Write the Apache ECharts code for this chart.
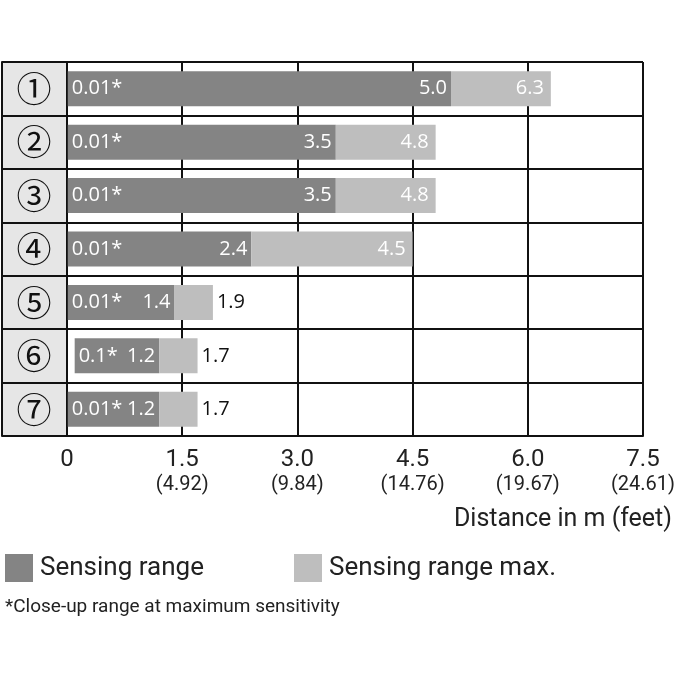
<!DOCTYPE html>
<html>
<head>
<meta charset="utf-8">
<script src="https://cdn.jsdelivr.net/npm/echarts@6/dist/echarts.min.js"></script>
<style>html,body{margin:0;padding:0;background:#fff;}#c{width:680px;height:680px;}</style>
</head>
<body>
<div id="c"></div>
<script>
const categories = ['①','②','③','④','⑤','⑥','⑦'];
const closeUp = [0.01, 0.01, 0.01, 0.01, 0.01, 0.1, 0.01];
const closeUpLabels = ['0.01*', '0.01*', '0.01*', '0.01*', '0.01*', '0.1*', '0.01*'];
const sensingRange = [5.0, 3.5, 3.5, 2.4, 1.4, 1.2, 1.2];
const sensingRangeMax = [6.3, 4.8, 4.8, 4.5, 1.9, 1.7, 1.7];
const xTickMeters = ['0', '1.5', '3.0', '4.5', '6.0', '7.5'];
const xTickFeet = ['', '(4.92)', '(9.84)', '(14.76)', '(19.67)', '(24.61)'];
const seriesNames = ['Sensing range', 'Sensing range max.'];
const axisTitle = 'Distance in m (feet)';
const footnote = '*Close-up range at maximum sensitivity';

const DARK = '#848484';
const LIGHT = '#bebebe';
const LINE = '#111';
const LABEL_FONT = 'Open Sans';
const TEXT_FONT = 'Roboto';

const chart = echarts.init(document.getElementById('c'), null, {renderer: 'canvas'});

const darkLen = sensingRange.map((v, i) => +(v - closeUp[i]).toFixed(3));
const lightLen = sensingRangeMax.map((v, i) => +(v - sensingRange[i]).toFixed(3));

const option = {
  animation: false,
  backgroundColor: '#fff',
  title: [
    {text: axisTitle, right: 3, top: 502, textStyle: {fontFamily: TEXT_FONT, fontSize: 25, fontWeight: 'normal', color: '#222'}},
    {text: footnote, left: 0, top: 593, textStyle: {fontFamily: TEXT_FONT, fontSize: 19, fontWeight: 'normal', color: '#222'}}
  ],
  legend: [
    {data: [seriesNames[0]], left: 0, top: 549, itemWidth: 28, itemHeight: 28, itemGap: 0,
     icon: 'rect', textStyle: {fontFamily: TEXT_FONT, fontSize: 26, color: '#222', padding: [0, 0, 0, 2]}},
    {data: [seriesNames[1]], left: 289, top: 549, itemWidth: 28, itemHeight: 28, itemGap: 0,
     icon: 'rect', textStyle: {fontFamily: TEXT_FONT, fontSize: 26, color: '#222', padding: [0, 0, 0, 2]}}
  ],
  grid: [
    {left: 67, right: 37, top: 62, bottom: 244, containLabel: false},
    {left: 2, width: 65, top: 62, bottom: 244, containLabel: false}
  ],
  xAxis: [
    {
      type: 'value', gridIndex: 0, min: 0, max: 7.5, interval: 1.5,
      axisLine: {show: true, lineStyle: {color: LINE, width: 2}},
      axisTick: {show: false},
      splitLine: {show: true, lineStyle: {color: LINE, width: 2}},
      axisLabel: {
        margin: 11,
        formatter: function (v) {
          const i = Math.round(v / 1.5);
          const f = xTickFeet[i];
          return f ? '{m|' + xTickMeters[i] + '}\n{f|' + f + '}' : '{m|' + xTickMeters[i] + '}';
        },
        rich: {
          m: {fontFamily: TEXT_FONT, fontSize: 24, color: '#222', lineHeight: 26},
          f: {fontFamily: TEXT_FONT, fontSize: 20, color: '#222', lineHeight: 24}
        }
      }
    },
    {type: 'value', gridIndex: 1, min: 0, max: 1, show: false}
  ],
  yAxis: [
    {
      type: 'category', gridIndex: 0, data: categories, inverse: true,
      axisLine: {show: true, lineStyle: {color: LINE, width: 2}},
      axisTick: {show: false},
      axisLabel: {show: false},
      splitLine: {show: true, lineStyle: {color: LINE, width: 2}}
    },
    {
      type: 'category', gridIndex: 1, data: categories, inverse: true,
      axisLine: {show: true, lineStyle: {color: LINE, width: 2}},
      axisTick: {show: false},
      splitArea: {show: true, areaStyle: {color: ['#e6e6e6']}},
      splitLine: {show: true, lineStyle: {color: LINE, width: 2}},
      axisLabel: {inside: true, margin: 32, align: 'center', fontFamily: 'Noto Sans CJK JP', fontSize: 35, color: '#111', padding: [6, 0, 0, 0]}
    }
  ],
  series: [
    {
      name: 'closeUp', type: 'bar', stack: 's', xAxisIndex: 0, yAxisIndex: 0, z: 5,
      barWidth: 35, data: closeUp,
      itemStyle: {color: 'rgba(0,0,0,0)'},
      label: {show: true, position: 'right', distance: 4, color: '#fff', fontFamily: LABEL_FONT, fontSize: 20,
        formatter: p => closeUpLabels[p.dataIndex]},
      silent: true
    },
    {
      name: seriesNames[0], type: 'bar', stack: 's', xAxisIndex: 0, yAxisIndex: 0,
      barWidth: 35, data: darkLen,
      itemStyle: {color: DARK},
      label: {show: true, position: 'insideRight', distance: 4, color: '#fff', fontFamily: LABEL_FONT, fontSize: 20,
        formatter: p => sensingRange[p.dataIndex].toFixed(1)}
    },
    {
      name: seriesNames[1], type: 'bar', stack: 's', xAxisIndex: 0, yAxisIndex: 0,
      barWidth: 35,
      data: lightLen.map((v, i) => i < 4 ? v : {value: v, label: {position: 'right', color: '#111', distance: 4}}),
      itemStyle: {color: LIGHT},
      label: {show: true, position: 'insideRight', distance: 7, color: '#fff', fontFamily: LABEL_FONT, fontSize: 20,
        formatter: p => sensingRangeMax[p.dataIndex].toFixed(1)}
    }
  ]
};
chart.setOption(option);
</script>
</body>
</html>
